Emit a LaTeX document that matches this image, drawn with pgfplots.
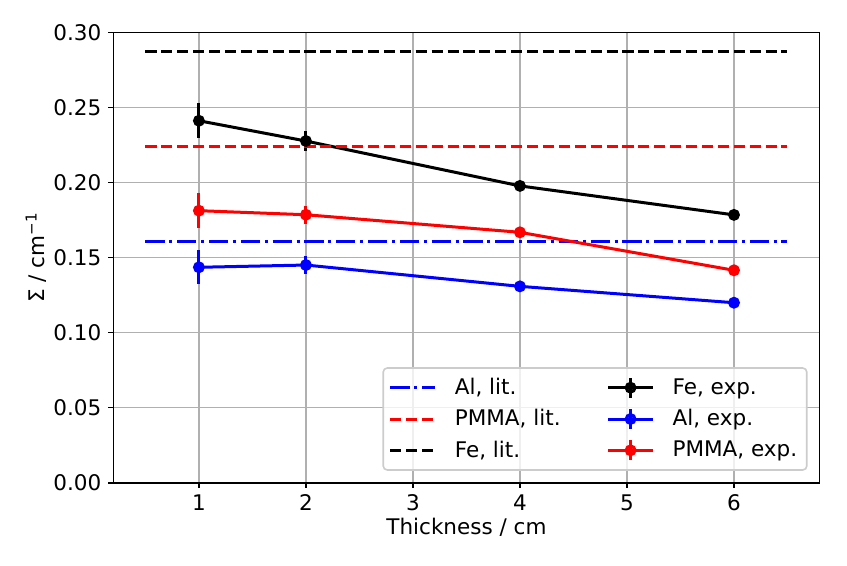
\documentclass[border=0pt]{standalone}
\usepackage{pgfplots}
\pgfplotsset{compat=1.18}
\usepackage{fontspec}
\setmainfont{DejaVu Sans}
\definecolor{gridc}{HTML}{B0B0B0}
\definecolor{legc}{HTML}{CCCCCC}
\definecolor{pr}{rgb}{1,0,0}
\definecolor{pb}{rgb}{0,0,1}
\definecolor{pk}{rgb}{0,0,0}
\newcommand{\fs}{\fontsize{10.8}{13}\selectfont}
\begin{document}
\begin{tikzpicture}
\begin{axis}[
  name=ax,
  scale only axis, width=353.1bp, height=225.2bp,
  xmin=0.2, xmax=6.8, ymin=0, ymax=0.30,
  xtick={1,2,3,4,5,6},
  ytick={0,0.05,0.10,0.15,0.20,0.25,0.30},
  /pgf/number format/assume math mode=true,
  yticklabel style={/pgf/number format/.cd, fixed, fixed zerofill, precision=2},
  ticklabel style={font=\fs},
  label style={font=\fs},
  tick align=outside, tick pos=left,
  major tick length=2.5bp,
  tick style={black, line width=0.8bp},
  axis line style={black, line width=0.8bp},
  grid=major, grid style={gridc, line width=0.6bp},
  xlabel={Thickness / cm},
  ylabel={Σ / cm\textsuperscript{−1}},
  xlabel style={at={(axis description cs:0.5,-0.1)}, anchor=center},
  ylabel style={at={(axis description cs:-0.1094,0.5)}, anchor=center},
  legend columns=2,
  legend cell align=left,
  legend style={at={(axis description cs:0.983,0.0266)}, anchor=south east,
    draw=legc, line width=0.8bp, fill=white, fill opacity=0.8, text opacity=1, draw opacity=1,
    rounded corners=2bp, font=\fs, row sep=2bp, inner xsep=2.8bp, inner ysep=3bp,
    /tikz/every odd column/.append style={column sep=7bp},
    /tikz/every even column/.append style={column sep=21bp}},
  legend image code/.code={\draw[#1] (0bp,0bp) -- (22.5bp,0bp);},
]
\pgfplotsset{
  expleg/.style={legend image code/.code={
    \draw[##1, mark=none] (0bp,0bp) -- (22.5bp,0bp);
    \draw[##1, mark=none] (11.25bp,-5bp) -- (11.25bp,5bp);
    \fill[##1] (11.25bp,0bp) circle (2.2bp);}},
  exp/.style={line width=1.5bp, mark=*, mark size=2.2bp, mark options={solid},
    error bars/y dir=both, error bars/y explicit, error bars/error mark=none,
    error bars/error bar style={line width=1.5bp}},
}
% Al lit
\addplot[pb, line width=1.5bp, dash pattern=on 9.6bp off 2.4bp on 1.5bp off 2.4bp] coordinates {(0.5,0.1604) (6.5,0.1604)};
\addlegendentry{Al, lit.}
% Fe exp
\addplot[pk, exp, expleg] coordinates {
  (1,0.2411) +- (0,0.0118)
  (2,0.2276) +- (0,0.0065)
  (4,0.1977) +- (0,0)
  (6,0.1784) +- (0,0)};
\addlegendentry{Fe, exp.}
% PMMA lit
\addplot[pr, line width=1.5bp, dash pattern=on 5.55bp off 2.4bp] coordinates {(0.5,0.2238) (6.5,0.2238)};
\addlegendentry{PMMA, lit.}
% Al exp
\addplot[pb, exp, expleg] coordinates {
  (1,0.1435) +- (0,0.0114)
  (2,0.1450) +- (0,0.0060)
  (4,0.1308) +- (0,0)
  (6,0.1199) +- (0,0)};
\addlegendentry{Al, exp.}
% Fe lit
\addplot[pk, line width=1.5bp, dash pattern=on 5.55bp off 2.4bp] coordinates {(0.5,0.2872) (6.5,0.2872)};
\addlegendentry{Fe, lit.}
% PMMA exp
\addplot[pr, exp, expleg] coordinates {
  (1,0.1812) +- (0,0.0117)
  (2,0.1785) +- (0,0.0060)
  (4,0.1668) +- (0,0)
  (6,0.1415) +- (0,0)};
\addlegendentry{PMMA, exp.}
\end{axis}
\pgfresetboundingbox
\path ([shift={(-56.65bp,-41.15bp)}]ax.south west) rectangle ([shift={(13.7bp,16.15bp)}]ax.north east);
\end{tikzpicture}
\end{document}
